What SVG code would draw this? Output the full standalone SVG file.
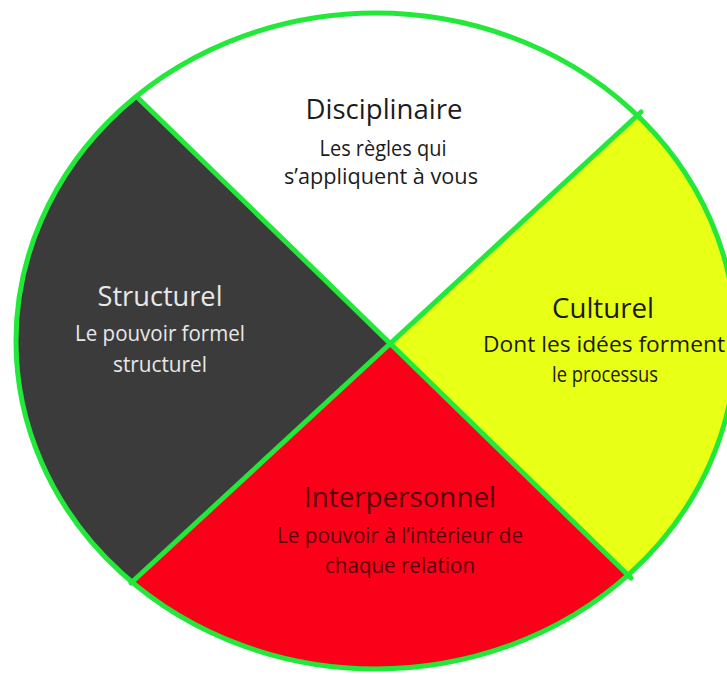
<svg xmlns="http://www.w3.org/2000/svg" width="727" height="674" viewBox="0 0 727 674">
<style>
.t{font-family:"Open Sans",Lato,"Liberation Sans",sans-serif;text-anchor:middle;font-size:26.5px;font-weight:500}
.s{font-family:"Open Sans",Lato,"Liberation Sans",sans-serif;text-anchor:middle;font-size:21px;font-weight:500}
.div{stroke:#22e83a;stroke-width:5;fill:none;stroke-linecap:round}
</style>
<defs>
<clipPath id="disc"><ellipse cx="376" cy="341" rx="360" ry="328"/></clipPath>
</defs>
<rect width="727" height="674" fill="#ffffff"/>
<g clip-path="url(#disc)">
<g id="disciplinaire">
<path d="M389,344 L-115,-150 L893,-120 Z" fill="#ffffff"/>
</g>
<g id="culturel">
<path d="M389,344 L893,-120 L873,812 Z" fill="#e8ff16"/>
</g>
<g id="interpersonnel">
<path d="M389,344 L873,812 L-127,822 Z" fill="#fb0019"/>
</g>
<g id="structurel">
<path d="M389,344 L-127,822 L-115,-150 Z" fill="#3b3b3b"/>
</g>
</g>
<g id="labels">
<g id="disciplinaire-text" fill="#1c1c1c">
<text class="t" x="384" y="119" textLength="157" lengthAdjust="spacingAndGlyphs">Disciplinaire</text>
<text class="s" x="383" y="156" textLength="127" lengthAdjust="spacingAndGlyphs">Les règles qui</text>
<text class="s" x="381" y="184" textLength="194" lengthAdjust="spacingAndGlyphs">s’appliquent à vous</text>
</g>
<g id="culturel-text" fill="#1a1a05">
<text class="t" x="603" y="318" textLength="102" lengthAdjust="spacingAndGlyphs">Culturel</text>
<text class="s" x="604" y="352" textLength="242" lengthAdjust="spacingAndGlyphs">Dont les idées forment</text>
<text class="s" x="605" y="382" textLength="106" lengthAdjust="spacingAndGlyphs">le processus</text>
</g>
<g id="interpersonnel-text" fill="#55000a">
<text class="t" x="400" y="507" textLength="192" lengthAdjust="spacingAndGlyphs">Interpersonnel</text>
<text class="s" x="400" y="543" textLength="246" lengthAdjust="spacingAndGlyphs">Le pouvoir à l’intérieur de</text>
<text class="s" x="400" y="573" textLength="150" lengthAdjust="spacingAndGlyphs">chaque relation</text>
</g>
<g id="structurel-text" fill="#e8e8e8">
<text class="t" x="160" y="306" textLength="125" lengthAdjust="spacingAndGlyphs">Structurel</text>
<text class="s" x="160" y="341" textLength="170" lengthAdjust="spacingAndGlyphs">Le pouvoir formel</text>
<text class="s" x="160" y="372" textLength="94" lengthAdjust="spacingAndGlyphs">structurel</text>
</g>
</g>
<g id="connectors">
<line class="div" x1="137" y1="97" x2="631" y2="578"/>
<line class="div" x1="641" y1="112" x2="131" y2="583"/>
<ellipse class="div" cx="376" cy="341" rx="360" ry="328" stroke-width="5.5"/>
</g>
</svg>
